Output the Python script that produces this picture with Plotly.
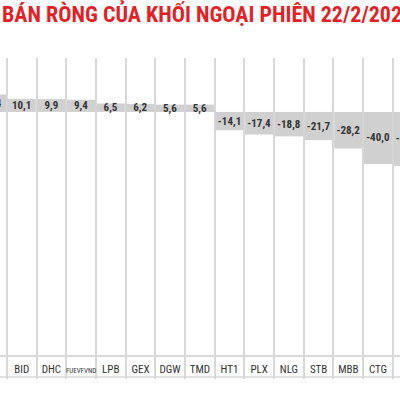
import plotly.graph_objects as go

# cropped view of the net buy/sell chart - edge columns are only partly visible
tickers = ["VCB", "BID", "DHC", "FUEVFVND", "LPB", "GEX", "DGW", "TMD",
           "HT1", "PLX", "NLG", "STB", "MBB", "CTG", "VHM"]
net_value = [13.4, 10.1, 9.9, 9.4, 6.5, 6.2, 5.6, 5.6,
             -14.1, -17.4, -18.8, -21.7, -28.2, -40.0, -41.5]

title_text = "BÁN RÒNG CỦA KHỐI NGOẠI PHIÊN 22/2/2024"

narrow = "Liberation Sans Narrow, Roboto Condensed, Arial Narrow, sans-serif"

labels = [f"{v:.1f}".replace(".", ",") for v in net_value]
tick_text = [f"<span style='font-size:7px'>{t}</span>" if len(t) > 5 else t for t in tickers]

fig = go.Figure()
fig.add_trace(go.Bar(
    x=tickers, y=net_value,
    marker=dict(color="#d0d0d0", line=dict(width=0)),
    text=labels, textposition="inside", insidetextanchor="middle",
    textangle=0, constraintext="none",
    textfont=dict(family=narrow, size=11, color="#333333", weight="bold"),
    hoverinfo="skip",
))

fig.update_layout(
    width=400, height=400,
    margin=dict(l=0, r=0, t=58, b=45, autoexpand=False),
    paper_bgcolor="white", plot_bgcolor="white",
    showlegend=False, bargap=0.05,
    xaxis=dict(
        type="category", range=[0.271, 13.74], autorange=False,
        tickmode="array", tickvals=tickers, ticktext=tick_text,
        tickangle=0, automargin=False,
        tickson="boundaries", showgrid=True, gridcolor="#d8d8d8", gridwidth=1.5,
        ticks="outside", ticklen=22, tickcolor="#d8d8d8", tickwidth=1.5,
        ticklabelstandoff=3,
        showline=True, linecolor="#d8d8d8", linewidth=1.5,
        tickfont=dict(family=narrow, size=11, color="#333333"),
        zeroline=False,
    ),
    yaxis=dict(range=[-187, 41.5], showgrid=False, zeroline=False,
               showticklabels=False, showline=False, automargin=False),
    annotations=[dict(
        text=f"<b>{title_text}</b>", xref="paper", yref="paper",
        x=0, y=1, yshift=45, xanchor="left", yanchor="middle",
        showarrow=False, font=dict(family=narrow, size=22, color="#e41f26"),
    )],
    shapes=[dict(type="line", xref="paper", yref="paper",
                 x0=0, x1=1, y0=-22 / 297, y1=-22 / 297,
                 line=dict(color="#d8d8d8", width=1.5))],
)

# page body has a default 8px margin, drop it so the chart sits at the corner
fig.write_html("out.html", config={"displayModeBar": False},
               post_script="document.body.style.margin='0';")
